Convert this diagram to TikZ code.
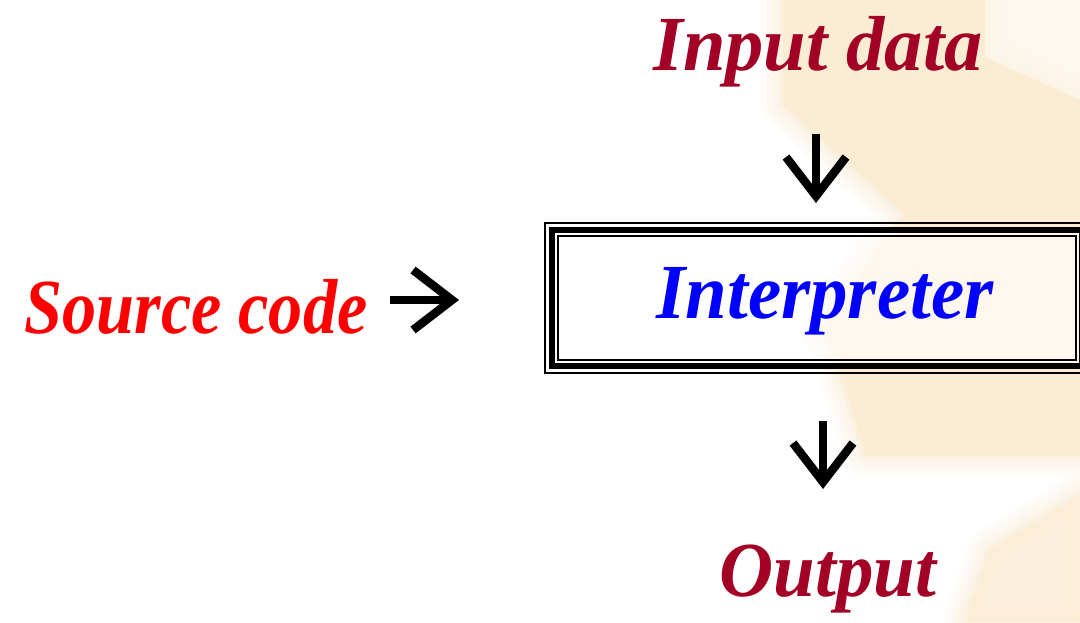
\documentclass[tikz,border=0pt]{standalone}
\usepackage{fontspec}
\setmainfont{Liberation Serif}
\usetikzlibrary{arrows.meta}
\definecolor{wine}{RGB}{163,0,38}
\definecolor{peach}{RGB}{251,236,212}
\definecolor{peachlight}{RGB}{253,245,233}
\begin{document}
\begin{tikzpicture}[x=1pt,y=-1pt,
  lbl/.style={font=\fontsize{78}{90}\selectfont\bfseries\itshape, inner sep=0pt, anchor=base},
  flow/.style={line width=8.5pt, -{Straight Barb[length=39pt,width=60pt]}},
  framebox/.style={draw, line width=6pt, outer sep=0pt, inner sep=0pt,
                   fill=white, fill opacity=0.6, draw opacity=1,
                   minimum width=530pt, minimum height=136pt},
  thinframe/.style={line width=1.5pt},
  emblemA/.style={insert path={(783,0) -- (985,0) -- (985,57) -- (1080,100) -- (1080,455)
      -- (865,455) -- (845,385) -- (825,330) -- (870,260) -- (905,215) -- (783,105) -- cycle}},
  emblemB/.style={insert path={(990,550) -- (1080,495) -- (1080,622) -- (965,622) -- cycle}},
  emblemC/.style={insert path={(985,0) -- (1080,0) -- (1080,100) -- (985,57) -- cycle}},
]
\useasboundingbox (0,0) rectangle (1080,622);
\clip (0,0) rectangle (1080,622);
\fill[white] (0,0) rectangle (1080,622);

% faint blurred emblem behind the right half
\foreach \w/\o in {44/0.12, 32/0.18, 20/0.25, 8/0.4} {
  \draw[peach, line width=\w pt, opacity=\o, line join=round] [emblemA];
  \draw[peach, line width=\w pt, opacity=\o, line join=round] [emblemB];
}
\fill[peach] [emblemA];
\fill[peach, opacity=0.8] [emblemB];
\fill[peachlight, opacity=0.8] [emblemC];

% interpreter box with triple frame
\node[framebox] (interp) at (817,298) {};
\draw[thinframe] ([shift={(-7,-7)}]interp.north west) rectangle ([shift={(7,7)}]interp.south east);
\draw[thinframe] ([shift={(6,6)}]interp.north west) rectangle ([shift={(-6,-6)}]interp.south east);
\node[lbl, text=blue] (interpText) at (825,318) {\scalebox{0.96}[1]{Interpreter}};

% labels
\node[lbl, text=wine] (input) at (818,70) {\scalebox{0.98}[1]{Input data}};
\node[lbl, text=red] (source) at (196,333) {\scalebox{0.875}[1]{Source code}};
\node[lbl, text=wine] (output) at (828,596) {\scalebox{0.96}[1]{Output}};

% arrows
\coordinate (inA) at (816,134);
\coordinate (inB) at (816,203);
\coordinate (srcA) at (390,300);
\coordinate (srcB) at (459,300);
\coordinate (outA) at (823,421);
\coordinate (outB) at (823,489);
\draw[flow] (inA) -- (inB);
\draw[flow] (srcA) -- (srcB);
\draw[flow] (outA) -- (outB);
\end{tikzpicture}
\end{document}
